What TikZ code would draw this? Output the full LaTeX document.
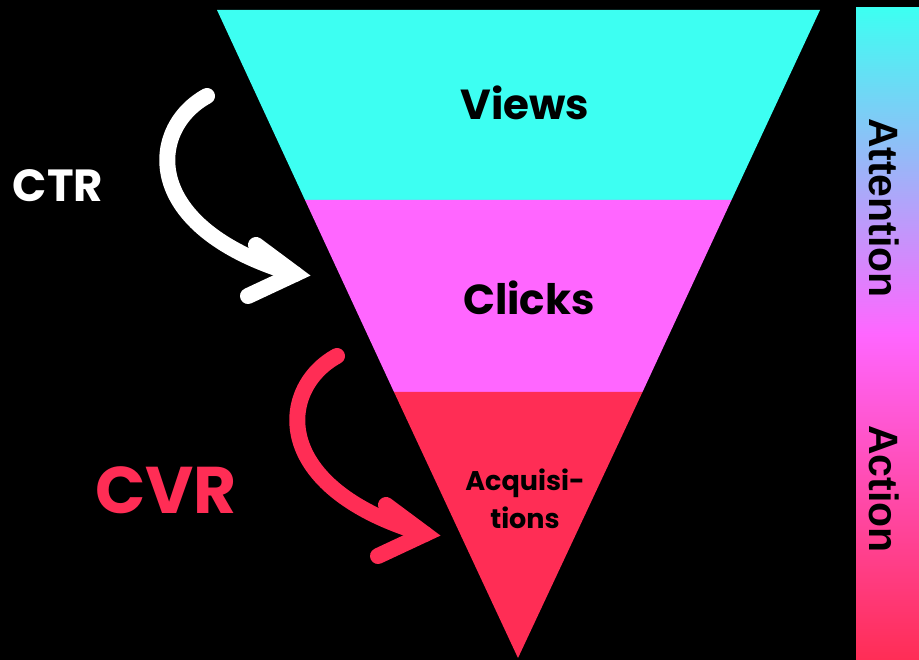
\documentclass[tikz,border=0pt]{standalone}
\usepackage{fontspec}
\setmainfont{Poppins}
\newfontfamily\barfont{Liberation Sans}
\definecolor{fcyan}{HTML}{3DFFF2}
\definecolor{fmag}{HTML}{FF66FF}
\definecolor{fred}{HTML}{FF2D55}
\begin{document}
\begin{tikzpicture}[x=1pt,y=-1pt,
  lbl/.style={font=\bfseries\fontsize{42}{44}\selectfont, text=black, inner sep=0pt},
  arrowline/.style={line width=16pt, line cap=round},
  chevron/.style={line width=16pt, line cap=round, line join=miter, miter limit=10}]
\fill[black] (0,0) rectangle (919,660);
\useasboundingbox (0,0) rectangle (919,660);
% funnel corners
\coordinate (tl) at (217,10);
\coordinate (tr) at (820,10);
\coordinate (ap) at (518,658);
\coordinate (ml1) at (305,200);
\coordinate (mr1) at (731.5,200);
\coordinate (ml2) at (394,392);
\coordinate (mr2) at (642.5,392);
\fill[fcyan] (tl) -- (tr) -- (mr1) -- (ml1) -- cycle;
\fill[fmag] (ml1) -- (mr1) -- (mr2) -- (ml2) -- cycle;
\fill[fred] (ml2) -- (mr2) -- (ap) -- cycle;
\node[lbl] (views) at (525,103) {Views};
\node[lbl] (clicks) at (529,298) {Clicks};
\node[lbl, font=\bfseries\fontsize{27}{38}\selectfont, align=center] (acq) at (525,499) {Acquisi-\\tions};
% gradient bar
\shade[top color=fcyan, bottom color=fred, middle color=fmag] (856,8) rectangle (919,660);
\node[rotate=-90, font=\barfont\bfseries\fontsize{41}{41}\selectfont, inner sep=0pt] (att) at (884,208) {Attention};
\node[rotate=-90, font=\barfont\bfseries\fontsize{41}{41}\selectfont, inner sep=0pt] (act) at (884,489) {Action};
% CTR arrow
\node[font=\bfseries\fontsize{45}{47}\selectfont, text=white, inner sep=0pt] (ctr) at (58,186) {CTR};
\coordinate (ws) at (207,96);
\coordinate (wt) at (295,274);
\coordinate (wa) at (256,245);
\coordinate (wb) at (248,296);
\draw[white, arrowline] (ws) .. controls (148,128) and (138,228) .. (wt);
\draw[white, chevron] (wa) -- (wt) -- (wb);
% CVR arrow
\node[font=\bfseries\fontsize{66}{68}\selectfont, text=fred, inner sep=0pt] (cvr) at (166,490) {CVR};
\coordinate (rs) at (337,356);
\coordinate (rt) at (425,534);
\coordinate (ra) at (386,505);
\coordinate (rb) at (378,556);
\draw[fred, arrowline] (rs) .. controls (278,388) and (268,488) .. (rt);
\draw[fred, chevron] (ra) -- (rt) -- (rb);
\end{tikzpicture}
\end{document}
